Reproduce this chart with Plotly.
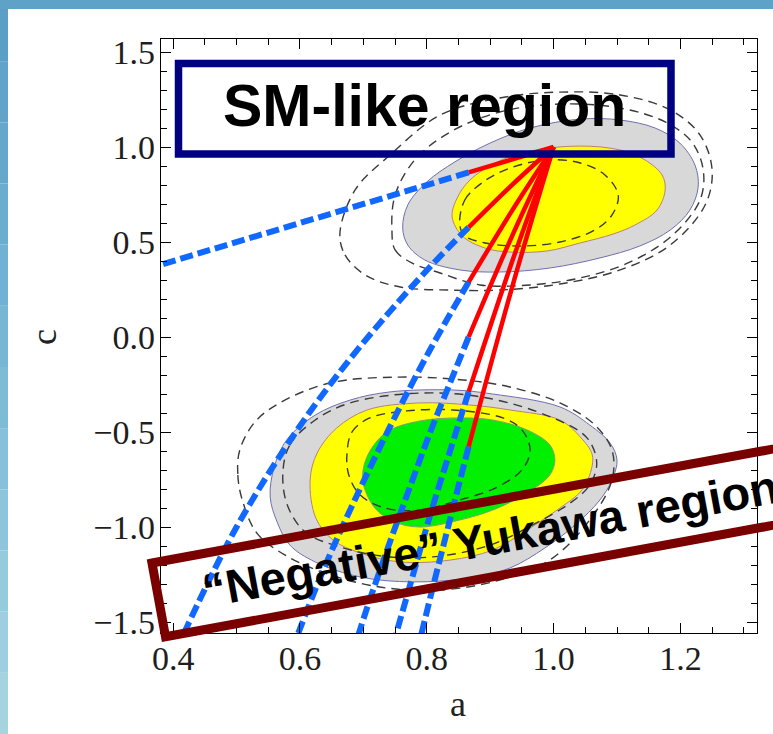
import plotly.graph_objects as go

# ---------------- data ----------------
# Coupling trajectories starting at the SM point (a, c) = (1, 1).
# Solid red part: small deformation; dashed blue part: continuation.
traj_red_a = [
    [1.0, 0.866],
    [1.0, 0.935, 0.866],
    [1.0, 0.935, 0.866],
    [1.0, 0.935, 0.866],
    [1.0, 0.935, 0.866],
    [1.0, 0.935, 0.866],
]
traj_red_c = [
    [1.0, 0.866],
    [1.0, 0.802, 0.577],
    [1.0, 0.668, 0.289],
    [1.0, 0.535, 0.0],
    [1.0, 0.401, -0.289],
    [1.0, 0.267, -0.577],
]
traj_blue_a = [
    [0.866, 0.37],
    [0.866, 0.806, 0.742, 0.671, 0.592, 0.50, 0.424, 0.412],
    [0.866, 0.806, 0.742, 0.671, 0.632, 0.592],
    [0.866, 0.837, 0.806, 0.775, 0.742, 0.707, 0.686],
    [0.866, 0.837, 0.806, 0.775, 0.755, 0.748],
    [0.866, 0.837, 0.806, 0.787],
]
traj_blue_c = [
    [0.866, 0.37],
    [0.577, 0.372, 0.135, -0.149, -0.507, -1.0, -1.509, -1.60],
    [0.289, -0.062, -0.472, -0.969, -1.265, -1.605],
    [0.0, -0.239, -0.496, -0.775, -1.078, -1.414, -1.633],
    [-0.289, -0.597, -0.93, -1.29, -1.523, -1.604],
    [-0.577, -0.956, -1.365, -1.626],
]

# Allowed regions around the SM-like point
up_gray_a = [0.762, 0.770, 0.800, 0.844, 0.900, 0.963, 1.042, 1.105, 1.160, 1.199, 1.223,
             1.228, 1.215, 1.184, 1.136, 1.073, 0.994, 0.915, 0.852, 0.797, 0.770]
up_gray_c = [0.574, 0.695, 0.816, 0.921, 1.021, 1.100, 1.147, 1.142, 1.100, 1.021, 0.905,
             0.789, 0.668, 0.563, 0.479, 0.416, 0.363, 0.342, 0.353, 0.405, 0.484]
up_yel_a = [0.840, 0.848, 0.868, 0.908, 0.963, 1.042, 1.105, 1.144, 1.171, 1.176, 1.163,
            1.128, 1.094, 1.042, 0.990, 0.931, 0.892, 0.856]
up_yel_c = [0.632, 0.732, 0.826, 0.916, 0.979, 1.005, 0.984, 0.932, 0.853, 0.774, 0.668,
            0.589, 0.542, 0.495, 0.453, 0.447, 0.468, 0.532]
up_dash1_a = [0.852, 0.860, 0.889, 0.931, 0.990, 1.042, 1.081, 1.102, 1.092, 1.065, 1.010,
              0.947, 0.892, 0.860]
up_dash1_c = [0.589, 0.721, 0.816, 0.889, 0.932, 0.916, 0.853, 0.747, 0.642, 0.563, 0.500,
              0.479, 0.495, 0.532]
up_dash2_a = [0.745, 0.750, 0.777, 0.821, 0.884, 0.963, 1.042, 1.121, 1.188, 1.231, 1.236,
              1.218, 1.176, 1.105, 1.010, 0.915, 0.837, 0.781, 0.750]
up_dash2_c = [0.563, 0.458, 0.389, 0.337, 0.274, 0.274, 0.311, 0.395, 0.537, 0.721, 0.879,
              1.026, 1.132, 1.205, 1.226, 1.184, 1.079, 0.932, 0.747]
up_dash3_a = [0.663, 0.671, 0.703, 0.758, 0.837, 0.915, 1.010, 1.105, 1.184, 1.239, 1.250,
              1.231, 1.184, 1.105, 1.010, 0.915, 0.821, 0.742, 0.687]
up_dash3_c = [0.547, 0.432, 0.326, 0.263, 0.247, 0.247, 0.279, 0.353, 0.484, 0.695, 0.879,
              1.063, 1.195, 1.274, 1.289, 1.258, 1.168, 0.958, 0.774]

# Allowed regions with negative top Yukawa
lo_gray_a = [0.553, 0.559, 0.579, 0.624, 0.679, 0.742, 0.841, 0.904, 1.010, 1.057, 1.089,
             1.100, 1.092, 1.073, 1.034, 0.986, 0.931, 0.868, 0.778, 0.695, 0.624, 0.584, 0.564]
lo_gray_c = [-0.842, -0.689, -0.542, -0.411, -0.332, -0.289, -0.279, -0.300, -0.368, -0.463,
             -0.558, -0.647, -0.753, -0.858, -0.989, -1.111, -1.216, -1.268, -1.289, -1.263,
             -1.184, -1.095, -0.974]
lo_yel_a = [0.616, 0.627, 0.658, 0.706, 0.789, 0.868, 0.931, 1.010, 1.042, 1.061, 1.057,
            1.042, 1.010, 0.958, 0.904, 0.837, 0.758, 0.695, 0.652, 0.625]
lo_yel_c = [-0.753, -0.611, -0.479, -0.384, -0.347, -0.358, -0.384, -0.437, -0.526, -0.621,
            -0.726, -0.816, -0.900, -1.016, -1.121, -1.174, -1.184, -1.137, -1.068, -0.953]
lo_grn_a = [0.699, 0.707, 0.737, 0.789, 0.852, 0.904, 0.958, 0.994, 1.002, 0.994, 0.958,
            0.904, 0.852, 0.789, 0.750, 0.718]
lo_grn_c = [-0.753, -0.621, -0.500, -0.442, -0.426, -0.437, -0.489, -0.568, -0.647, -0.726,
            -0.821, -0.911, -0.963, -1.000, -0.974, -0.900]
lo_dash1_a = [0.674, 0.682, 0.710, 0.769, 0.841, 0.920, 0.950, 0.963, 0.950, 0.908, 0.852,
              0.789, 0.734, 0.695, 0.677]
lo_dash1_c = [-0.621, -0.500, -0.426, -0.389, -0.384, -0.426, -0.489, -0.595, -0.700, -0.795,
              -0.858, -0.911, -0.900, -0.832, -0.726]
lo_dash2_a = [0.573, 0.584, 0.624, 0.679, 0.789, 0.895, 0.999, 1.053, 1.068, 1.057, 1.026,
              0.967, 0.900, 0.821, 0.742, 0.663, 0.608, 0.580]
lo_dash2_c = [-0.716, -0.568, -0.437, -0.347, -0.295, -0.321, -0.426, -0.532, -0.663, -0.779,
              -0.874, -0.989, -1.095, -1.153, -1.158, -1.105, -1.026, -0.884]
lo_dash3_a = [0.505, 0.502, 0.509, 0.532, 0.576, 0.639, 0.726, 0.821, 0.915, 0.994, 1.057,
              1.092, 1.092, 1.065, 1.010, 0.931, 0.857, 0.753, 0.647, 0.568, 0.529]
lo_dash3_c = [-0.595, -0.726, -0.858, -1.032, -1.147, -1.242, -1.316, -1.332, -1.279, -1.174,
              -0.963, -0.753, -0.595, -0.463, -0.347, -0.263, -0.226, -0.211, -0.242, -0.347,
              -0.447]

x_ticks = [0.4, 0.6, 0.8, 1.0, 1.2]
y_ticks = [-1.5, -1.0, -0.5, 0.0, 0.5, 1.0, 1.5]
x_title = "a"
y_title = "c"
label_sm = "SM-like region"
label_neg = "“Negative” Yukawa region"

# ---------------- layout geometry ----------------
W, H = 773, 734
L, R, T, B = 161, 16, 39, 101
PW, PH = W - L - R, H - T - B


def px(x):
    return (x - L) / PW


def py(y):
    return (H - B - y) / PH


def closed(xs, ys):
    return list(xs) + [xs[0]], list(ys) + [ys[0]]


fig = go.Figure()

# filled regions
for xs, ys, fill, edge in [
    (up_gray_a, up_gray_c, "#d8d8d8", "#6f6fb0"),
    (up_yel_a, up_yel_c, "#ffff00", "#b88080"),
    (lo_gray_a, lo_gray_c, "#d8d8d8", "#6f6fb0"),
    (lo_yel_a, lo_yel_c, "#ffff00", "#b88080"),
    (lo_grn_a, lo_grn_c, "#00f000", "#80a070"),
]:
    cx, cy = closed(xs, ys)
    fig.add_trace(go.Scatter(x=cx, y=cy, mode="lines", fill="toself", fillcolor=fill,
                             line=dict(color=edge, width=1, shape="spline", smoothing=1.0),
                             hoverinfo="skip", showlegend=False))

# dashed contour lines
for xs, ys in [(up_dash1_a, up_dash1_c), (up_dash2_a, up_dash2_c), (up_dash3_a, up_dash3_c),
               (lo_dash1_a, lo_dash1_c), (lo_dash2_a, lo_dash2_c), (lo_dash3_a, lo_dash3_c)]:
    cx, cy = closed(xs, ys)
    fig.add_trace(go.Scatter(x=cx, y=cy, mode="lines",
                             line=dict(color="#3a3a3a", width=1.4, dash="9px,6px",
                                       shape="spline", smoothing=1.0),
                             hoverinfo="skip", showlegend=False))

# trajectories
for ra, rc in zip(traj_red_a, traj_red_c):
    fig.add_trace(go.Scatter(x=ra, y=rc, mode="lines",
                             line=dict(color="#ff0000", width=4.5, shape="spline"),
                             hoverinfo="skip", showlegend=False))
for ba, bc in zip(traj_blue_a, traj_blue_c):
    fig.add_trace(go.Scatter(x=ba, y=bc, mode="lines",
                             line=dict(color="#1068ff", width=6, dash="13px,5px", shape="spline"),
                             hoverinfo="skip", showlegend=False))

shapes = []
# slide background strips (left and top)
left_cols = ["#5c9fc6", "#61a3c9", "#66a8cc", "#6badcf", "#71b1d2", "#77b6d4", "#7ebbd7",
             "#86c0da", "#8ec5dc", "#96cadd", "#9ecedf", "#a6d3e0"]
n = len(left_cols)
for i, col in enumerate(left_cols):
    y0 = i * H / n
    y1 = (i + 1) * H / n
    shapes.append(dict(type="rect", xref="paper", yref="paper", x0=px(0), x1=px(8),
                       y0=py(y1), y1=py(y0), fillcolor=col, line=dict(width=0), layer="below"))
shapes.append(dict(type="rect", xref="paper", yref="paper", x0=px(0), x1=px(W),
                   y0=py(9), y1=py(0), fillcolor="#5fa2c8", line=dict(width=0), layer="below"))

# SM-like box
shapes.append(dict(type="rect", xref="paper", yref="paper", x0=px(178.5), x1=px(671),
                   y0=py(154), y1=py(63.5), line=dict(color="#000080", width=7.5),
                   fillcolor="rgba(0,0,0,0)", layer="above"))

# tilted box around the negative-Yukawa label
p1 = (152.0, 563.0)
ux, uy = 0.9836, -0.1805
vx, vy = 0.1805, 0.9836
LEN, HT = 720.0, 75.0
p2 = (p1[0] + LEN * ux, p1[1] + LEN * uy)
p3 = (p2[0] + HT * vx, p2[1] + HT * vy)
p4 = (p1[0] + HT * vx, p1[1] + HT * vy)
path = "M {} {} L {} {} L {} {} L {} {} Z".format(
    px(p1[0]), py(p1[1]), px(p2[0]), py(p2[1]), px(p3[0]), py(p3[1]), px(p4[0]), py(p4[1]))
shapes.append(dict(type="path", xref="paper", yref="paper", path=path,
                   line=dict(color="#7a0000", width=9), fillcolor="rgba(0,0,0,0)",
                   layer="above"))

serif = "Liberation Serif, Times New Roman, serif"
sans = "Liberation Sans, Arial, sans-serif"

annotations = [
    dict(text="<b>" + label_sm + "</b>", xref="paper", yref="paper", x=px(424), y=py(106),
         showarrow=False, xanchor="center", yanchor="middle",
         font=dict(family=sans, size=59, color="black")),
    dict(text="<b>" + label_neg + "</b>", xref="paper", yref="paper", x=px(490), y=py(538),
         showarrow=False, xanchor="center", yanchor="middle", textangle=-10.4,
         font=dict(family=sans, size=47, color="black")),
    dict(text=y_title, xref="paper", yref="paper", x=px(44), y=py(337), showarrow=False,
         textangle=-90, xanchor="center", yanchor="middle",
         font=dict(family=serif, size=36, color="#222")),
    dict(text=x_title, xref="paper", yref="paper", x=px(458), y=py(704), showarrow=False,
         xanchor="center", yanchor="middle", font=dict(family=serif, size=36, color="#222")),
]

axis_common = dict(showgrid=False, zeroline=False, showline=True, linecolor="black",
                   linewidth=1.4, mirror="ticks", ticks="inside", ticklen=10, tickwidth=1.3,
                   tickcolor="black", tickformat=".1f",
                   tickfont=dict(family=serif, size=34, color="#1e1e1e"))

fig.update_layout(
    width=W, height=H,
    margin=dict(l=L, r=R, t=T, b=B),
    paper_bgcolor="white", plot_bgcolor="white",
    showlegend=False,
    shapes=shapes,
    annotations=annotations,
    xaxis=dict(range=[0.3808, 1.3208], tickvals=x_ticks, ticklabelstandoff=-5,
               minor=dict(dtick=0.05, tick0=0.4, ticks="inside", ticklen=6,
                          tickwidth=1.2, tickcolor="black"),
               **axis_common),
    yaxis=dict(range=[-1.5579, 1.5684], tickvals=y_ticks, ticklabelstandoff=-2,
               minor=dict(dtick=0.1, tick0=0.0, ticks="inside", ticklen=6,
                          tickwidth=1.2, tickcolor="black"),
               **axis_common),
)

fig.write_html("out.html")
